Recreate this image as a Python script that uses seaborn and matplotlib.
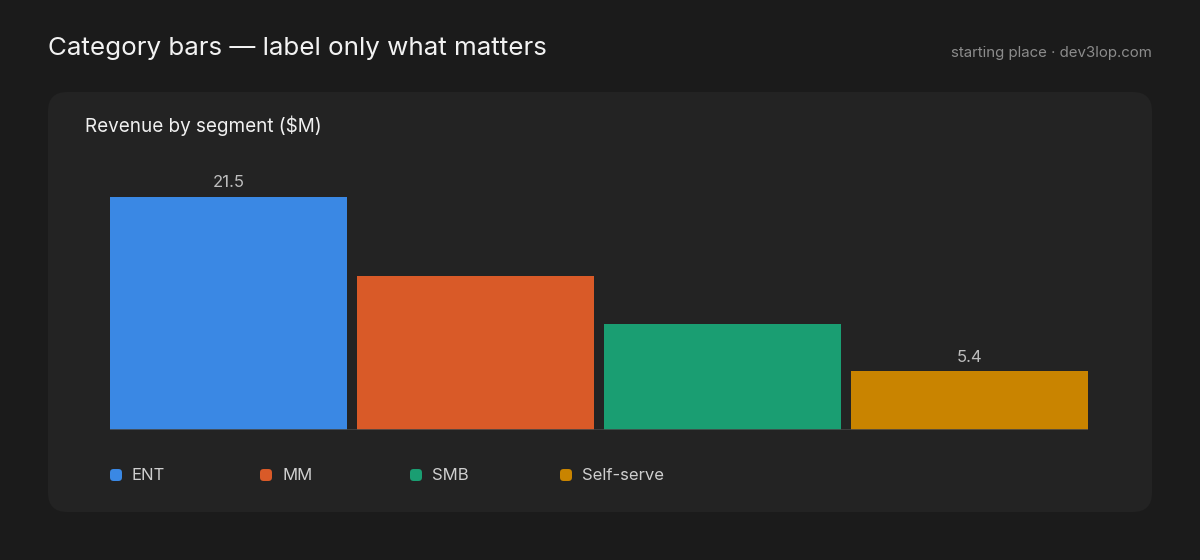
import matplotlib
matplotlib.use("Agg")
import matplotlib.pyplot as plt
from matplotlib.patches import FancyBboxPatch
import seaborn as sns
import pandas as pd

# dados
segments = ["ENT", "MM", "SMB", "Self-serve"]
revenue = [21.5, 14.2, 9.8, 5.4]
colors = ["#3a88e4", "#d95a28", "#1a9e72", "#c98400"]
labelled = ["ENT", "Self-serve"]  # only label what matters

sns.set_theme(style="white")
plt.rcParams["font.family"] = ["Inter", "DejaVu Sans"]

W, H = 1200, 560
fig = plt.figure(figsize=(12, 5.6), dpi=100, facecolor="#1b1b1b")

# card background (behind the axes)
card = FancyBboxPatch((48 / W, 1 - 512 / H), (1152 - 48) / W, (512 - 92) / H,
                      boxstyle="round,pad=0,rounding_size=0.016",
                      transform=fig.transFigure, facecolor="#232323",
                      edgecolor="none", mutation_aspect=W / H, zorder=-5)
fig.patches.append(card)

fig.text(48 / W, 1 - 48 / H, "Category bars — label only what matters",
         color="#f2f2f2", fontsize=18.7, va="center", ha="left")
fig.text(1152 / W, 1 - 53 / H, "starting place · dev3lop.com",
         color="#8c8c8c", fontsize=10.8, va="center", ha="right")
fig.text(85 / W, 1 - 126 / H, "Revenue by segment ($M)",
         color="#f0f0f0", fontsize=13.6, va="center", ha="left")

ax = fig.add_axes([110 / W, 1 - 430 / H, 978 / W, 233 / H])
ax.set_facecolor("none")
df = pd.DataFrame({"segment": segments, "revenue": revenue})
sns.barplot(data=df, x="segment", y="revenue", hue="segment",
            palette=colors, width=0.96, legend=False, ax=ax,
            saturation=1, linewidth=0, edgecolor="none")
ax.set_xlim(-0.48, 3.48)
ax.set_ylim(0, max(revenue))
for s in ax.spines.values():
    s.set_visible(False)
ax.set_xticks([])
ax.set_yticks([])
ax.set_xlabel("")
ax.set_ylabel("")
ax.axhline(0, color="#444444", lw=1.2, zorder=5)

for i, (seg, val) in enumerate(zip(segments, revenue)):
    if seg in labelled:
        ax.annotate(f"{val:.1f}", (i, val), xytext=(0, 5),
                    textcoords="offset points", ha="center", va="bottom",
                    color="#bdbdbd", fontsize=12, annotation_clip=False)

# legend
for i, (seg, c) in enumerate(zip(segments, colors)):
    x0 = (110 + 150 * i) / W
    y0 = 1 - 475 / H
    sq = FancyBboxPatch((x0, y0 - 6 / H), 12 / W, 12 / H,
                        boxstyle="round,pad=0,rounding_size=0.003",
                        transform=fig.transFigure, facecolor=c,
                        edgecolor="none", mutation_aspect=W / H)
    fig.patches.append(sq)
    fig.text(x0 + 22 / W, y0, seg, color="#cfcfcf", fontsize=12,
             va="center", ha="left")

fig.savefig("out.png", dpi=100, facecolor=fig.get_facecolor())
